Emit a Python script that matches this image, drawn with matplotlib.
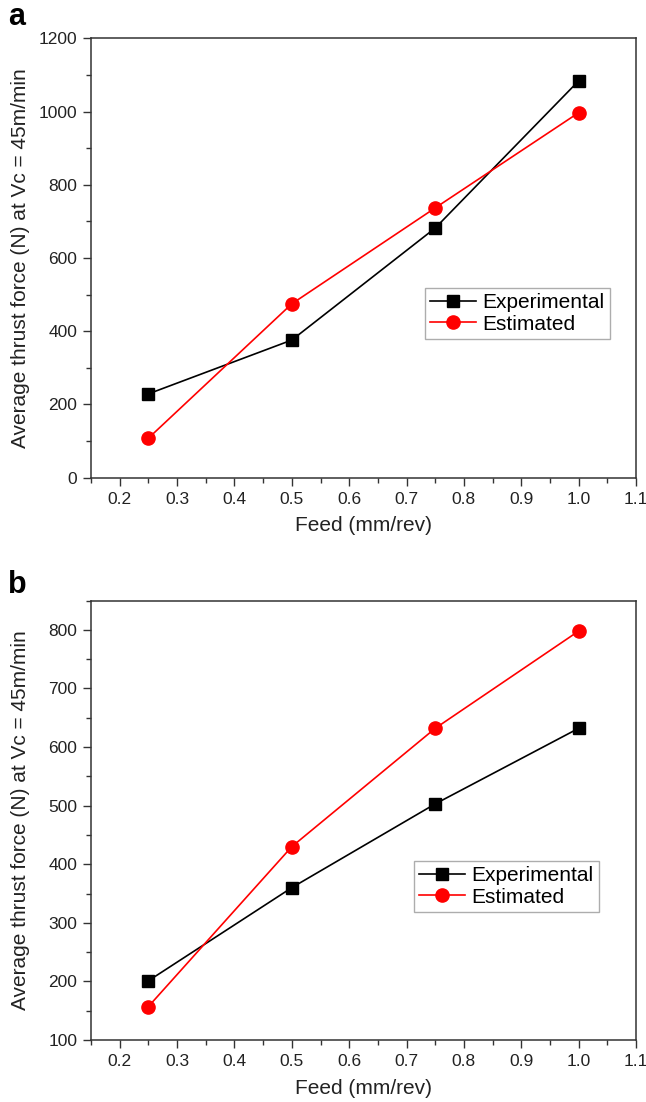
import numpy as np
import matplotlib.pyplot as plt
from matplotlib.ticker import MultipleLocator

plt.rcParams['font.family'] = ['Liberation Sans', 'DejaVu Sans']

feed = [0.25, 0.5, 0.75, 1.0]

# panel a
exp_a = [229, 376, 682, 1084]
est_a = [108, 475, 737, 997]

# panel b
exp_b = [201, 360, 503, 632]
est_b = [157, 430, 632, 798]

xlabel = 'Feed (mm/rev)'
ylabel = 'Average thrust force (N) at Vc = 45m/min'

fig = plt.figure(figsize=(6.46, 11.02), dpi=100)
ax_a = fig.add_axes([0.1409, 0.5665, 0.8437, 0.3987])
ax_b = fig.add_axes([0.1409, 0.0563, 0.8437, 0.3987])


def draw(ax, exp, est, ylim, ymajor, legend_anchor):
    ax.plot(feed, exp, '-s', color='black', lw=1.2, ms=8.5, label='Experimental')
    ax.plot(feed, est, '-o', color='#ff0000', lw=1.2, ms=9.5, label='Estimated')
    ax.set_xlim(0.15, 1.1)
    ax.set_ylim(*ylim)
    ax.xaxis.set_major_locator(MultipleLocator(0.1))
    ax.xaxis.set_minor_locator(MultipleLocator(0.05))
    ax.yaxis.set_major_locator(MultipleLocator(ymajor))
    ax.yaxis.set_minor_locator(MultipleLocator(ymajor / 2))
    ax.xaxis.set_major_formatter(plt.FuncFormatter(lambda v, p: '%.1f' % v))
    ax.tick_params(which='both', direction='out', top=False, right=False,
                   labelsize=12.5, color='#333333', labelcolor='#222222')
    ax.tick_params(which='major', length=6, width=1.0, pad=4)
    ax.tick_params(which='minor', length=3.5, width=1.0)
    for s in ax.spines.values():
        s.set_color('#333333')
        s.set_linewidth(1.1)
    ax.set_xlabel(xlabel, fontsize=15, color='#222222', labelpad=7)
    ax.set_ylabel(ylabel, fontsize=15, color='#222222')
    ax.yaxis.set_label_coords(-0.112, 0.5)
    leg = ax.legend(loc='upper left', bbox_to_anchor=legend_anchor, fontsize=15,
                    frameon=True, fancybox=False, edgecolor='#999999',
                    handlelength=2.2, borderpad=0.25, labelspacing=0.12,
                    handletextpad=0.3, borderaxespad=0)
    leg.get_frame().set_linewidth(1.0)


draw(ax_a, exp_a, est_a, (0, 1200), 200, (0.613, 0.432))
draw(ax_b, exp_b, est_b, (100, 850), 100, (0.593, 0.4075))

fig.text(0.012, 0.9773, 'a', fontsize=22, fontweight='bold', va='baseline', ha='left')
fig.text(0.012, 0.4619, 'b', fontsize=22, fontweight='bold', va='baseline', ha='left')

fig.savefig('out.png', dpi=100)
